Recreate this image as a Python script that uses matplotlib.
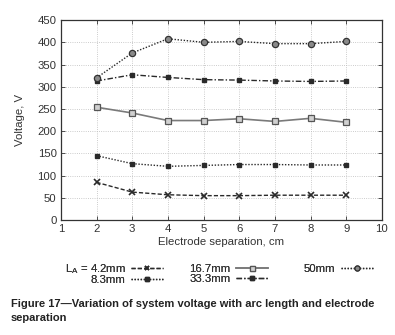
"""
Figure 17 - system voltage vs electrode separation for several arc lengths
"""

import matplotlib.pyplot as plt
from matplotlib.ticker import MultipleLocator

plt.rcParams["font.family"] = ["Liberation Sans", "DejaVu Sans"]
plt.rcParams["mathtext.fontset"] = "custom"
plt.rcParams["mathtext.rm"] = "Liberation Sans"

separation = [2, 3, 4, 5, 6, 7, 8, 9]  # cm

v_4_2 = [85, 63, 57, 55, 55, 56, 56, 56]
v_8_3 = [145, 127, 121, 123, 125, 125, 124, 124]
v_16_7 = [254, 241, 224, 224, 228, 222, 229, 220]
v_33_3 = [313, 327, 321, 316, 315, 313, 312, 313]
v_50 = [320, 376, 408, 400, 402, 397, 397, 402]

labels = [r"$\mathregular{L_A}$ = 4.2mm", "8.3mm", "16.7mm", "33.3mm", "50mm"]

DARK = "#2a2a2a"
GREY = "#7a7a7a"
FS = 8.2


def main() -> None:
    fig = plt.figure(figsize=(3.95, 3.35), dpi=100)
    ax = fig.add_axes([0.154, 0.343, 0.813, 0.597])

    l1, = ax.plot(separation, v_4_2, color=DARK, ls=(0, (3, 1.5)), lw=1.0,
                  marker="x", ms=4, mew=1.2)
    l2, = ax.plot(separation, v_8_3, color=DARK, ls=(0, (1, 1.2)), lw=1.0,
                  marker="s", ms=3.5, mfc=DARK, mec=DARK)
    l3, = ax.plot(separation, v_16_7, color=GREY, ls="-", lw=1.2,
                  marker="s", ms=4.5, mfc="#d0d0d0", mec="#555555", mew=0.9)
    l4, = ax.plot(separation, v_33_3, color=DARK, ls=(0, (4, 1.5, 1, 1.5)), lw=1.0,
                  marker="s", ms=3.5, mfc=DARK, mec=DARK)
    l5, = ax.plot(separation, v_50, color=DARK, ls=(0, (1, 1.2)), lw=1.0,
                  marker="o", ms=4.5, mfc="#8a8a8a", mec="#333333", mew=0.9)

    ax.set_xlim(1, 10)
    ax.set_ylim(0, 450)
    ax.xaxis.set_major_locator(MultipleLocator(1))
    ax.yaxis.set_major_locator(MultipleLocator(50))
    ax.tick_params(direction="in", top=True, right=True, length=3,
                   width=0.6, labelsize=FS, colors="#333333", pad=3)
    ax.grid(True, ls=":", lw=0.6, color="#bbbbbb")
    for spine in ax.spines.values():
        spine.set_color("#333333")
        spine.set_linewidth(0.9)

    ax.set_xlabel("Electrode separation, cm", fontsize=FS, color="#333333",
                  labelpad=2)
    ax.set_ylabel("Voltage, V", fontsize=FS, color="#333333", labelpad=9)

    # legend split in three blocks like the original
    groups = [([l1, l2], labels[0:2], 0.413, 0.218, -0.1),
              ([l3, l4], labels[2:4], 0.679, 0.212, 0.0),
              ([l5], labels[4:5], 0.945, 0.212, 0.0)]
    for handles, labs, xr, yt, sp in groups:
        leg = fig.legend(handles, labs, loc="upper right",
                         bbox_to_anchor=(xr, yt), frameon=False,
                         markerfirst=False, fontsize=FS, handlelength=2.8,
                         handletextpad=0.5, labelspacing=sp, markerscale=0.8,
                         borderpad=0, borderaxespad=0, numpoints=1)
        for t in leg.get_texts():
            t.set_color("#333333")
        fig.add_artist(leg)

    fig.text(0.028, 0.108,
             "Figure 17\u2014Variation of system voltage with arc length and electrode\nseparation",
             fontsize=8.0, fontweight="bold", color="#222222", va="top",
             linespacing=1.5)

    fig.savefig("out.png", dpi=100)


if __name__ == "__main__":
    main()
